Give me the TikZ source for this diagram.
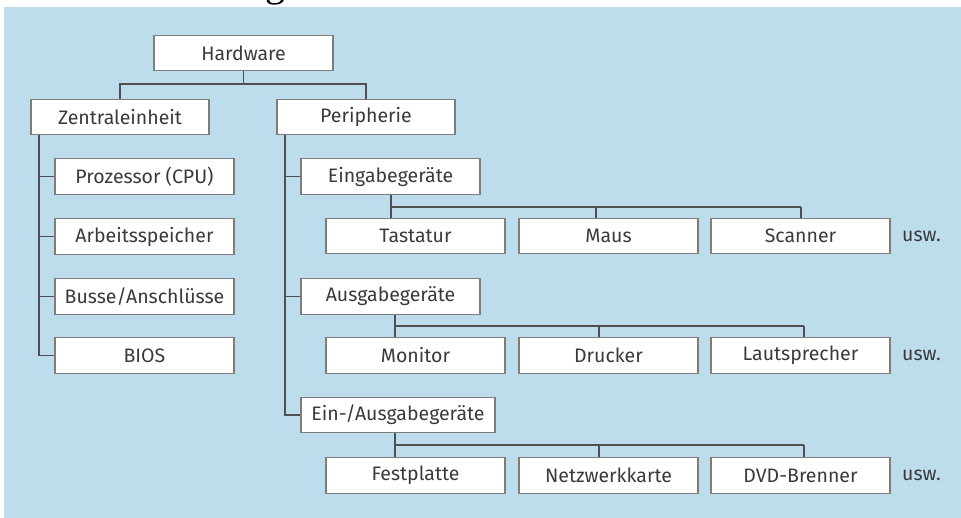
\documentclass[tikz,border=0pt]{standalone}
\usepackage{fontspec}
\setmainfont{Fira Sans}
\newfontfamily\capfont{Liberation Serif}
\definecolor{bgblue}{RGB}{189,221,237}
\definecolor{txtgray}{RGB}{58,58,58}
\definecolor{boxline}{RGB}{125,125,125}
\definecolor{conline}{RGB}{80,80,80}
\begin{document}
\begin{tikzpicture}[x=1pt,y=-1pt,
  box/.style={draw=boxline,line width=1.3pt,fill=white,minimum height=35.5pt,
    inner sep=0pt,text=txtgray,font=\fontsize{19.5}{22}\selectfont},
  wbox/.style={box,minimum width=179pt},
  conn/.style={draw=conline,line width=1.8pt},
  etc/.style={text=txtgray,font=\fontsize{19.5}{22}\selectfont,inner sep=0pt}]
\useasboundingbox (0,0) rectangle (961,518);
\fill[bgblue] (4,7) rectangle (961,518);
\begin{scope}
\clip (0,0) rectangle (961,7);
\node[anchor=base,inner sep=0pt,font=\capfont\fontsize{40}{44}\selectfont] (cap) at (275,-3) {g};
\end{scope}
% nodes
\node[wbox] (hw) at (243.5,53) {Hardware};
\node[box,minimum width=178pt] (zen) at (120,117) {Zentraleinheit};
\node[box,minimum width=178pt] (per) at (366,117) {Peripherie};
\node[wbox] (cpu) at (144.5,176.5) {Prozessor (CPU)};
\node[wbox] (arb) at (144.5,236.5) {Arbeitsspeicher};
\node[wbox] (bus) at (144.5,296.5) {Busse/Anschlüsse};
\node[wbox] (bios) at (144.5,355.5) {BIOS};
\node[wbox] (ein) at (390.5,176.5) {Eingabegeräte};
\node[wbox] (aus) at (390.5,296.5) {Ausgabegeräte};
\node[box,minimum width=194pt] (eaus) at (398,415) {Ein-/Ausgabegeräte};
\node[wbox] (tast) at (415.5,236) {Tastatur};
\node[wbox] (maus) at (608.5,236) {Maus};
\node[wbox] (scan) at (800.5,236) {Scanner};
\node[wbox] (mon) at (415.5,355.5) {Monitor};
\node[wbox] (druck) at (608.5,355.5) {Drucker};
\node[wbox] (laut) at (800.5,355.5) {Lautsprecher};
\node[wbox] (fest) at (415.5,475.5) {Festplatte};
\node[wbox] (netz) at (608.5,475.5) {Netzwerkkarte};
\node[wbox] (dvd) at (800.5,475.5) {DVD-Brenner};
\node[etc,anchor=west] (u1) at (902,236) {usw.};
\node[etc,anchor=west] (u2) at (902,355.5) {usw.};
\node[etc,anchor=west] (u3) at (902,475.5) {usw.};
% helper coordinates
\coordinate (xz) at (39,0);
\coordinate (xp) at (285,0);
\coordinate (xa) at (391,0);
\coordinate (xb) at (596,0);
\coordinate (xc) at (801,0);
\coordinate (xd) at (395,0);
\coordinate (xe) at (599,0);
\coordinate (xf) at (804,0);
\coordinate (y0) at (0,84);
\coordinate (y1) at (0,207);
\coordinate (y2) at (0,326);
\coordinate (y3) at (0,445);
% top level
\draw[conn] (hw.south) -- (hw.south |- y0);
\draw[conn] (zen.north) -- (zen.north |- y0) -- (per.north |- y0) -- (per.north);
% Zentraleinheit
\draw[conn] (zen.south -| xz) -- (bios.west -| xz) -- (bios.west);
\draw[conn] (cpu.west -| xz) -- (cpu.west);
\draw[conn] (arb.west -| xz) -- (arb.west);
\draw[conn] (bus.west -| xz) -- (bus.west);
% Peripherie
\draw[conn] (per.south -| xp) -- (eaus.west -| xp) -- (eaus.west);
\draw[conn] (ein.west -| xp) -- (ein.west);
\draw[conn] (aus.west -| xp) -- (aus.west);
% Eingabe
\draw[conn] (ein.south -| xa) -- (tast.north -| xa);
\draw[conn] (xa |- y1) -- (xc |- y1);
\draw[conn] (maus.north -| xb) -- (xb |- y1);
\draw[conn] (scan.north -| xc) -- (xc |- y1);
% Ausgabe
\draw[conn] (aus.south -| xd) -- (mon.north -| xd);
\draw[conn] (xd |- y2) -- (xf |- y2);
\draw[conn] (druck.north -| xe) -- (xe |- y2);
\draw[conn] (laut.north -| xf) -- (xf |- y2);
% Ein-/Ausgabe
\draw[conn] (eaus.south -| xd) -- (fest.north -| xd);
\draw[conn] (xd |- y3) -- (xf |- y3);
\draw[conn] (netz.north -| xe) -- (xe |- y3);
\draw[conn] (dvd.north -| xf) -- (xf |- y3);
\end{tikzpicture}
\end{document}
